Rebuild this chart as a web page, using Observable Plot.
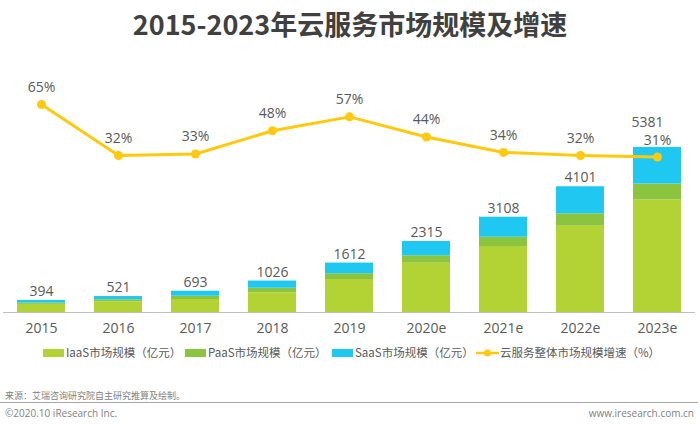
<!DOCTYPE html>
<html><head><meta charset="utf-8">
<script src="https://cdn.jsdelivr.net/npm/d3@7"></script>
<script src="https://cdn.jsdelivr.net/npm/@observablehq/plot@0.6"></script>
<style>
body{margin:0;background:#fff;font-family:"Noto Sans CJK SC","Open Sans",sans-serif;}
#wrap{position:relative;width:700px;height:427px;overflow:hidden;}
#title{position:absolute;left:0;top:0;width:700px;height:46px;text-align:center;font-size:27px;font-weight:bold;color:#404040;line-height:48px;}
#chart{position:absolute;left:0;top:46px;width:700px;height:300px;}
#chart svg{position:absolute;left:0;top:0;}
#legend{position:absolute;left:0;top:342px;width:700px;height:20px;font-size:11.5px;color:#595959;}
.li{position:absolute;top:0;line-height:20px;white-space:nowrap;}
.sw{display:inline-block;width:21px;height:8px;vertical-align:middle;margin-right:2px;position:relative;top:-1px;}
#src{position:absolute;left:5px;top:389px;font-size:9px;color:#7f7f7f;}
#sep{position:absolute;left:0;top:402px;width:698px;height:1px;background:#a6a6a6;}
#copy{position:absolute;left:5px;top:406px;font-size:10px;color:#7f7f7f;font-family:"Open Sans",sans-serif;}
#web{position:absolute;right:6px;top:406px;font-size:10px;color:#7f7f7f;font-family:"Open Sans",sans-serif;}
</style></head>
<body>
<div id="wrap">
<div id="title">2015-2023年云服务市场规模及增速</div>
<div id="chart"></div>
<div id="legend"></div>
<div id="src">来源：艾瑞咨询研究院自主研究推算及绘制。</div>
<div id="sep"></div>
<div id="copy">©2020.10 iResearch Inc.</div>
<div id="web">www.iresearch.com.cn</div>
</div>
<script>
const years = ["2015","2016","2017","2018","2019","2020e","2021e","2022e","2023e"];
const iaas = [265, 350, 424, 642, 1076, 1608, 2153, 2815, 3670];
const paas = [42, 66, 108, 150, 186, 241, 303, 404, 520];
const saas = [87, 105, 161, 234, 350, 466, 652, 882, 1191];
const totals = [394, 521, 693, 1026, 1612, 2315, 3108, 4101, 5381];
const growth = [65, 32, 33, 48, 57, 44, 34, 32, 31];

const seriesNames = ["IaaS市场规模（亿元）","PaaS市场规模（亿元）","SaaS市场规模（亿元）"];
const colors = ["#B3D334","#8BC53F","#1FC8F0"];
const lineColor = "#FFC90E";

const rows = [];
years.forEach((y,i)=>{
  rows.push({year:y, s:seriesNames[0], v:iaas[i]});
  rows.push({year:y, s:seriesNames[1], v:paas[i]});
  rows.push({year:y, s:seriesNames[2], v:saas[i]});
});
const totRows = years.map((y,i)=>({year:y, t:totals[i]}));
const gRows = years.map((y,i)=>({year:y, g:growth[i]}));

const W = 700, H = 300;
const common = {
  width: W, height: H, marginLeft: 3, marginRight: 5, marginTop: 20, marginBottom: 34,
  style: {fontFamily: '"Open Sans","Noto Sans CJK SC",sans-serif', background: "transparent"}
};
const xOpt = {type:"band", domain: years, paddingInner: 0.377, paddingOuter: 0.18, align: 0.5};

const bars = Plot.plot({
  ...common,
  x: {...xOpt, label: null, tickSize: 0, tickPadding: 11},
  y: {domain: [0, 8023], axis: null},
  color: {domain: seriesNames, range: colors},
  marks: [
    Plot.barY(rows, {x: "year", y: "v", fill: "s", order: seriesNames, inset: 0}),
    Plot.ruleY([0], {stroke: "#bfbfbf", strokeWidth: 1.2}),
    Plot.text(totRows.filter(d=>d.year!=="2023e"), {x: "year", y: "t", text: d=>String(d.t), dy: -9, fill: "#595959", fontSize: 14}),
    Plot.text(totRows.filter(d=>d.year==="2023e"), {x: "year", y: "t", text: d=>String(d.t), dy: -25, dx: -10, fill: "#595959", fontSize: 14}),
    Plot.axisX({tickSize: 0, tickPadding: 11, fontSize: 14, fill: "#595959", label: null})
  ]
});

const line = Plot.plot({
  ...common,
  x: {...xOpt, axis: null},
  y: {domain: [-69.6, 89.6], axis: null},
  marks: [
    Plot.lineY(gRows, {x: "year", y: "g", stroke: lineColor, strokeWidth: 3}),
    Plot.dot(gRows, {x: "year", y: "g", fill: lineColor, r: 4.5}),
    Plot.text(gRows, {x: "year", y: "g", text: d=>d.g+"%", dy: -17, fill: "#595959", fontSize: 14})
  ]
});
document.getElementById("chart").append(bars, line);

// legend
const leg = document.getElementById("legend");
const items = [
  {x: 43, type: "sw", c: colors[0], t: seriesNames[0]},
  {x: 185, type: "sw", c: colors[1], t: seriesNames[1]},
  {x: 332, type: "sw", c: colors[2], t: seriesNames[2]},
  {x: 476, type: "line", c: lineColor, t: "云服务整体市场规模增速（%）"}
];
items.forEach(it=>{
  const d = document.createElement("div");
  d.className = "li"; d.style.left = it.x + "px";
  if (it.type === "sw") {
    d.innerHTML = `<span class="sw" style="background:${it.c}"></span>${it.t}`;
  } else {
    d.innerHTML = `<svg width="23" height="10" style="vertical-align:middle;margin-right:1px;position:relative;top:-1px"><line x1="0" x2="23" y1="5" y2="5" stroke="${it.c}" stroke-width="2.5"/><circle cx="11.5" cy="5" r="3.5" fill="${it.c}"/></svg>${it.t}`;
  }
  leg.append(d);
});
</script>
</body></html>
